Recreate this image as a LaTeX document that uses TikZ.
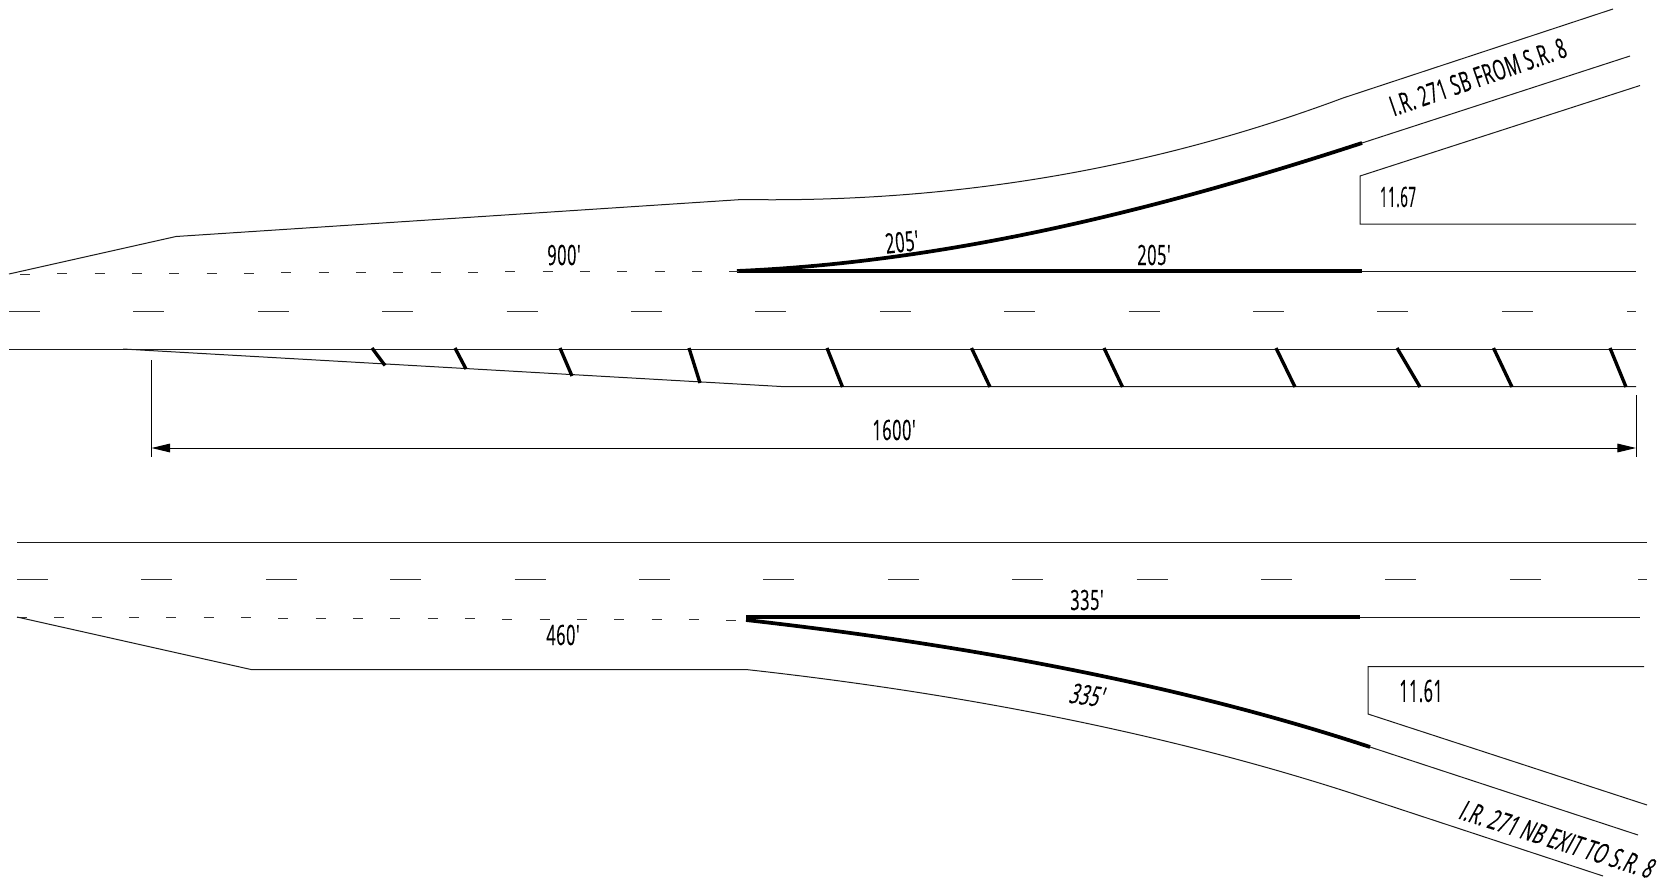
\documentclass[tikz,border=0pt]{standalone}
\usepackage{fontspec}
\usepackage{graphicx}
\newfontfamily\uprightfont[FakeStretch=0.58,LetterSpace=2.2,FakeBold=0.3]{Open Sans}
\newfontfamily\slantfont[FakeStretch=0.58,LetterSpace=2.2,FakeSlant=0.2,FakeBold=0.3]{Open Sans}
\usetikzlibrary{arrows.meta}
\tikzset{
  thinline/.style={line width=0.75pt,black!90},
  thickline/.style={line width=2.8pt,black},
  hash/.style={line width=2.5pt,black},
  dashmark/.style={line width=0.75pt,black!80},
  lbl/.style={inner sep=0pt,font=\uprightfont\fontsize{21}{21}\selectfont},
  lblslant/.style={inner sep=0pt,font=\slantfont\fontsize{21}{21}\selectfont},
  dimline/.style={line width=0.75pt,black,{Triangle[length=14pt,width=6.5pt]}-{Triangle[length=14pt,width=6.5pt]}}
}
\begin{document}
\begin{tikzpicture}[x=0.75pt,y=-0.75pt]
\useasboundingbox (0,0) rectangle (1664,882);
% --- top roadway
\draw[thinline] (9,274) -- (176,236.5) -- (742,199.5)
  .. controls (950,203) and (1150,170) .. (1343,98) -- (1613,9);
\draw[thickline] (737,271) .. controls (950,262) and (1160,209) .. (1362,143);
\draw[thinline] (1362,143) -- (1630,56);
\draw[thickline] (737,271) -- (1362,271);
\draw[thinline] (1362,271) -- (1636,271);
\draw[thinline] (1640,85.5) -- (1360,176) -- (1360,224) -- (1636,224);
\foreach \k in {0,...,19}{
  \pgfmathsetmacro{\xa}{20+37.33*\k}
  \pgfmathsetmacro{\ya}{274-3*\k/19}
  \draw[dashmark] (\xa,\ya) -- ++(10,0);
}
\foreach \k in {0,...,12}{
  \pgfmathsetmacro{\xa}{9+124.4*\k}
  \draw[dashmark] (\xa,311) -- ++(31,0);
}
\draw[dashmark] (1627,311) -- (1636,311);
\draw[thinline] (9,349) -- (1636,349);
\draw[thinline] (123,349) -- (781,386.5) -- (1636,386.5);
\foreach \xa/\xb/\yb in {372/385/365.5,455/466/369,560/572/376,689/700/383,
  827/842.5/387,971.5/990/387,1104/1122.5/387,1276/1295/387,1397/1420/387,1493.5/1512/387,1610/1626/387}{
  \draw[hash] (\xa,348) -- (\xb,\yb);
}
% dimension
\draw[line width=0.75pt] (151.5,360) -- (151.5,457);
\draw[line width=0.75pt] (1636,395) -- (1636,457);
\coordinate (dimL) at (151.5,448);
\coordinate (dimR) at (1636,448);
\draw[dimline] (dimL) -- (dimR);
% --- bottom roadway
\draw[thinline] (17,542.5) -- (1647,542.5);
\foreach \k in {0,...,12}{
  \pgfmathsetmacro{\xa}{17+124.4*\k}
  \draw[dashmark] (\xa,579.5) -- ++(31,0);
}
\draw[dashmark] (1638,579.5) -- (1647,579.5);
\foreach \k in {0,...,19}{
  \pgfmathsetmacro{\xa}{17+37.33*\k}
  \pgfmathsetmacro{\ya}{617+3*\k/19}
  \draw[dashmark] (\xa,\ya) -- ++(10,0);
}
\draw[thinline] (17,617) -- (251,669.5) -- (746,669.5)
  .. controls (950,692) and (1160,731) .. (1354,794) -- (1603,876);
\draw[thickline] (746,617) -- (1360,617);
\draw[thinline] (1360,617) -- (1640,617);
\draw[thickline] (746,620) .. controls (950,643) and (1170,681) .. (1370,747);
\draw[thinline] (1370,747) -- (1638,835);
\draw[thinline] (1644,666.7) -- (1368,666.7) -- (1368,714) -- (1647,805);
% --- labels
\node[lbl] (l900) at (564,255) {900'};
\node[lbl,rotate=6] (l205a) at (902,242) {205'};
\node[lbl] (l205b) at (1154,255) {205'};
\node[lbl] (l1600) at (894,430) {1600'};
\node[lbl] (l1167) at (1398,197) {\scalebox{0.82}[1]{11.67}};
\node[lbl,font=\uprightfont\fontsize{23}{23}\selectfont] (l1161) at (1421,691) {\scalebox{0.9}[1]{11.61}};
\node[lbl,rotate=19] (lsb) at (1478,77) {I.R. 271 SB FROM S.R. 8};
\node[lbl] (l335a) at (1087,600) {335'};
\node[lblslant,rotate=-8] (l335b) at (1086,695) {335'};
\node[lbl] (l460) at (563,635) {460'};
\node[lblslant,rotate=-17.5] (lnb) at (1556,839) {I.R. 271 NB EXIT TO S.R. 8};
\end{tikzpicture}
\end{document}
